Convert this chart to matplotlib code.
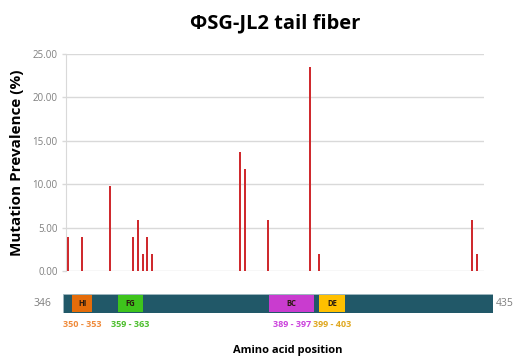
import matplotlib
matplotlib.use('Agg')
import matplotlib.pyplot as plt
from matplotlib.patches import Rectangle
import numpy as np

plt.rcParams['font.family'] = ['Open Sans', 'DejaVu Sans']

### Data: mutation prevalence (%) by amino acid position
positions = [346, 349, 355, 360, 361, 362, 363, 364, 383, 384, 389, 398, 400, 433, 434]
prevalence = [3.92, 3.92, 9.80, 3.92, 5.88, 1.96, 3.92, 1.96, 13.73, 11.76, 5.88, 23.53, 1.96, 5.88, 1.96]

aa_start = 346
aa_end = 435
yticks = [0, 5, 10, 15, 20, 25]

# loops on the tail fiber (start, end, colour of box, colour of label)
loop_names = ['HI', 'FG', 'BC', 'DE']
loop_start = [350, 359, 389, 399]
loop_end = [353, 363, 397, 403]
loop_fill = ['#e46c0a', '#3ec41c', '#c93ccf', '#ffc000']
loop_text = ['#ef8a3a', '#4cbf2c', '#cc44dd', '#e0a820']

title = '\u03a6SG-JL2 tail fiber'
grid_col = '#d9d9d9'
bar_col = '#cf2a2e'

fig = plt.figure(figsize=(5.17, 3.59), dpi=100)

##--- main bar chart ---##
ax1 = fig.add_axes([66/517, 1-271/359, 418/517, 217/359])
ax1.bar(positions, prevalence, width=0.42, color=bar_col, zorder=3)
ax1.set_xlim(aa_start-0.5, aa_end+0.5)
ax1.set_ylim(0, 25)
ax1.set_yticks(yticks)
ax1.set_yticklabels(['{:.2f}'.format(v) for v in yticks], fontsize=7, color='#7f7f7f')
ax1.set_xticks([])
ax1.grid(axis='y', color=grid_col, linewidth=1, zorder=0)
ax1.tick_params(axis='y', length=3, width=1, color=grid_col, pad=3)
for s in ['top', 'right', 'bottom']:
    ax1.spines[s].set_visible(False)
ax1.spines['left'].set_color(grid_col)
ax1.set_ylabel('Mutation Prevalence (%)', fontsize=11, fontweight='bold', labelpad=6)
fig.text(275/517, 1-23/359, title, ha='center', va='center', fontsize=14.5, fontweight='bold')

##--- domain map below (schematic, own scale) ---##
ax2 = fig.add_axes([63/517, 1-313/359, 430/517, 19/359])
ax2.set_xlim(348.2, 433.4)
ax2.set_ylim(0, 1)
ax2.add_patch(Rectangle((0, 0), 1, 1, transform=ax2.transAxes, facecolor='#215868',
                        edgecolor='#9fb8c0', linewidth=0.6))
for i in range(len(loop_names)):
    s = loop_start[i]; e = loop_end[i] + 1
    ax2.add_patch(Rectangle((s, 0.05), e - s, 0.9, facecolor=loop_fill[i], edgecolor='none'))
    ax2.text((s + e) / 2, 0.5, loop_names[i], ha='center', va='center', fontsize=5.5,
             fontweight='bold', color='#2a1a10')
    ax2.text((s + e) / 2, -0.35, '{} - {}'.format(loop_start[i], loop_end[i]), ha='center', va='top',
             fontsize=6.5, fontweight='bold', color=loop_text[i])
ax2.axis('off')
fig.text(42/517, 1-303/359, str(aa_start), ha='center', va='center', fontsize=7.5, color='#7f7f7f')
fig.text(505/517, 1-303/359, str(aa_end), ha='center', va='center', fontsize=7.5, color='#7f7f7f')
fig.text(288/517, 1-350/359, 'Amino acid position', ha='center', va='center', fontsize=8,
         fontweight='bold')

fig.savefig('out.png', dpi=100)
